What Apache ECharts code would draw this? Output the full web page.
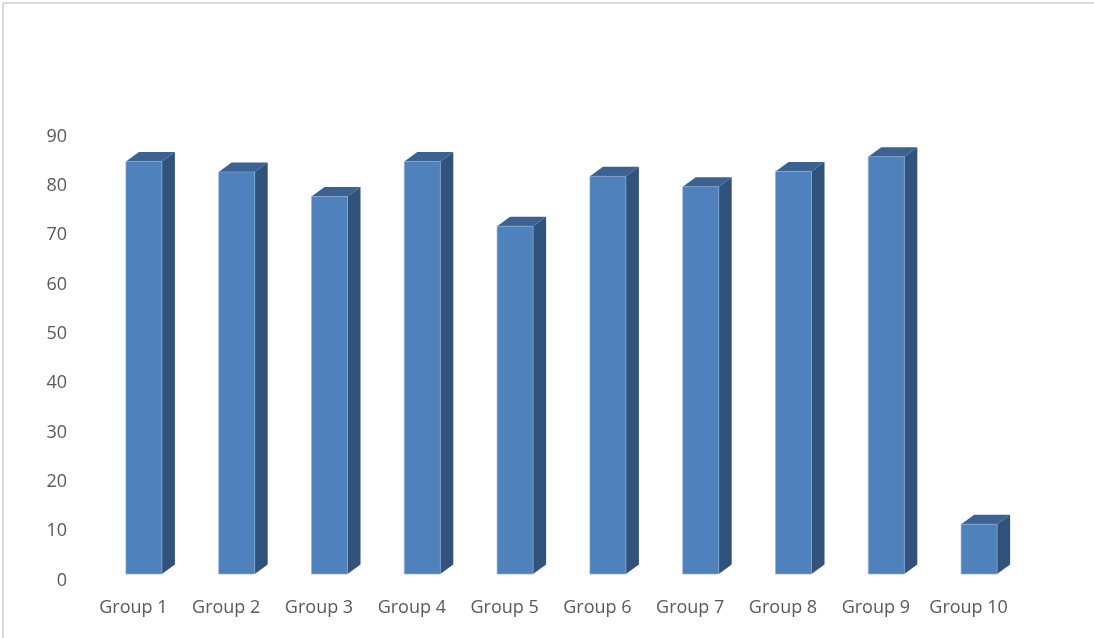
<!DOCTYPE html>
<html>
<head>
	<meta charset="UTF-8">
	<title>Group chart</title>
	<script src="https://cdn.jsdelivr.net/npm/echarts@6/dist/echarts.min.js"></script>
	<style>
		html, body { margin: 0; padding: 0; background: #fff; }
		#main { width: 1094px; height: 638px; }
	</style>
</head>
<body>
	<div id="main"></div>
	<script>
		// data
		var categories = ['Group 1', 'Group 2', 'Group 3', 'Group 4', 'Group 5', 'Group 6', 'Group 7', 'Group 8', 'Group 9', 'Group 10'];
		var values = [83.6, 81.5, 76.5, 83.6, 70.5, 80.6, 78.5, 81.6, 84.6, 10.1];
		var yTicks = [0, 10, 20, 30, 40, 50, 60, 70, 80, 90];

		var chart = echarts.init(document.getElementById('main'));

		// 3d look: front face, side and top
		function renderBar(params, api) {
			var base = api.coord([api.value(0), 0]);
			var top = api.coord([api.value(0), api.value(1)]);
			var x0 = base[0] - 7.5, w = 36, dx = 13, dy = 9.5;
			return {
				type: 'group',
				children: [{
					type: 'polygon',
					shape: { points: [[x0 + w, top[1]], [x0 + w + dx, top[1] - dy], [x0 + w + dx, base[1] - dy], [x0 + w, base[1]]] },
					style: { fill: '#31527b' }
				}, {
					type: 'polygon',
					shape: { points: [[x0, top[1]], [x0 + dx, top[1] - dy], [x0 + w + dx, top[1] - dy], [x0 + w, top[1]]] },
					style: { fill: '#3b6291' }
				}, {
					type: 'rect',
					shape: { x: x0, y: top[1], width: w, height: base[1] - top[1] },
					style: { fill: '#4f81bd', stroke: 'rgba(140,175,215,0.6)', lineWidth: 1 }
				}]
			};
		}

		var option = {
			backgroundColor: '#fff',
			animation: false,
			// outer frame, only top and left edges are visible
			graphic: [{
				type: 'line',
				shape: { x1: 3, y1: 3, x2: 1094, y2: 3 },
				style: { stroke: '#d9d9d9', lineWidth: 2 },
				silent: true
			}, {
				type: 'line',
				shape: { x1: 3, y1: 3, x2: 3, y2: 638 },
				style: { stroke: '#d9d9d9', lineWidth: 2 },
				silent: true
			}],
			grid: {
				left: 87,
				right: 79,
				top: 130,
				bottom: 64
			},
			xAxis: {
				type: 'category',
				data: categories,
				axisLine: { show: false },
				axisTick: { show: false },
				axisLabel: {
					interval: 0,
					margin: 25,
					color: '#595959',
					fontFamily: 'Open Sans',
					fontSize: 18
				}
			},
			yAxis: {
				type: 'value',
				min: yTicks[0],
				max: yTicks[yTicks.length - 1],
				interval: 10,
				axisLine: { show: false },
				axisTick: { show: false },
				splitLine: { show: false },
				axisLabel: {
					margin: 20,
					color: '#595959',
					fontFamily: 'Open Sans',
					fontSize: 18,
					verticalAlign: 'top',
					lineHeight: 13
				}
			},
			series: [{
				type: 'custom',
				renderItem: renderBar,
				encode: { x: 0, y: 1 },
				data: values.map(function (v, i) { return [i, v]; })
			}]
		};

		chart.setOption(option);
	</script>
</body>
</html>
